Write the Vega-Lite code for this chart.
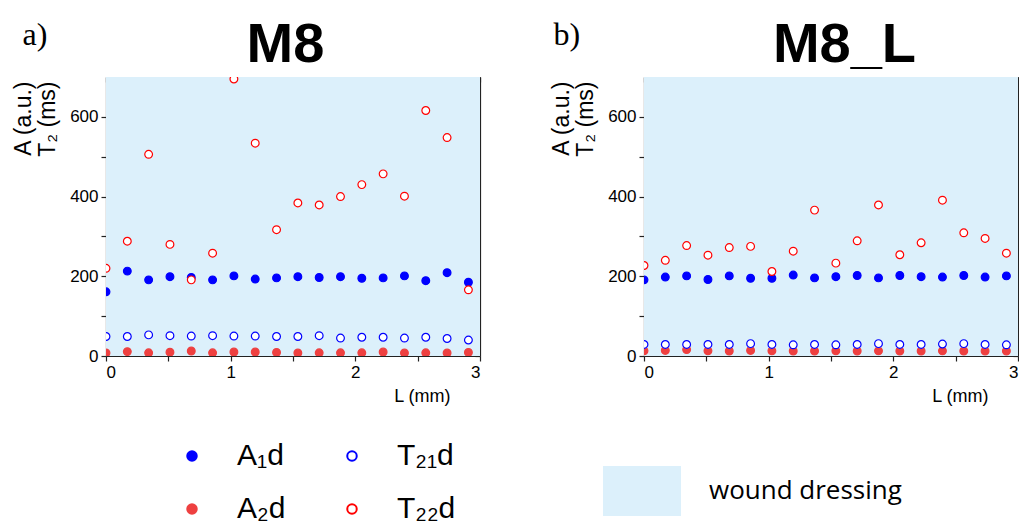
{
  "$schema": "https://vega.github.io/schema/vega-lite/v6.json",
  "background": "white",
  "padding": {"left": 12, "top": 16, "right": 0, "bottom": 0},
  "datasets": {
    "m8": [
      {"L": 0, "A1d": 161, "A2d": 7.5, "T21d": 49, "T22d": 220},
      {"L": 0.171, "A1d": 213, "A2d": 11, "T21d": 49, "T22d": 288},
      {"L": 0.342, "A1d": 191, "A2d": 8, "T21d": 53, "T22d": 506},
      {"L": 0.513, "A1d": 199, "A2d": 9.6, "T21d": 51, "T22d": 280},
      {"L": 0.684, "A1d": 197, "A2d": 12.5, "T21d": 50, "T22d": 191},
      {"L": 0.855, "A1d": 191, "A2d": 8, "T21d": 51, "T22d": 258},
      {"L": 1.026, "A1d": 201, "A2d": 10, "T21d": 50, "T22d": 695},
      {"L": 1.197, "A1d": 193, "A2d": 10, "T21d": 50, "T22d": 534},
      {"L": 1.368, "A1d": 196, "A2d": 9, "T21d": 49, "T22d": 317},
      {"L": 1.539, "A1d": 199, "A2d": 7.5, "T21d": 49, "T22d": 384},
      {"L": 1.71, "A1d": 197, "A2d": 8, "T21d": 51, "T22d": 379},
      {"L": 1.881, "A1d": 199, "A2d": 8, "T21d": 45, "T22d": 400},
      {"L": 2.052, "A1d": 195, "A2d": 8, "T21d": 47, "T22d": 430},
      {"L": 2.223, "A1d": 196, "A2d": 10, "T21d": 47, "T22d": 457},
      {"L": 2.394, "A1d": 201, "A2d": 7.5, "T21d": 45, "T22d": 401},
      {"L": 2.565, "A1d": 189, "A2d": 8, "T21d": 47, "T22d": 616},
      {"L": 2.736, "A1d": 209, "A2d": 7.5, "T21d": 44, "T22d": 548},
      {"L": 2.907, "A1d": 185, "A2d": 9, "T21d": 40, "T22d": 166}
    ],
    "m8l": [
      {"L": 0, "A1d": 191, "A2d": 13, "T21d": 29, "T22d": 227},
      {"L": 0.171, "A1d": 198, "A2d": 14, "T21d": 29, "T22d": 240},
      {"L": 0.342, "A1d": 201, "A2d": 16, "T21d": 29, "T22d": 277},
      {"L": 0.513, "A1d": 192, "A2d": 13, "T21d": 29, "T22d": 253},
      {"L": 0.684, "A1d": 201, "A2d": 12.5, "T21d": 29, "T22d": 272},
      {"L": 0.855, "A1d": 195, "A2d": 14, "T21d": 31, "T22d": 275},
      {"L": 1.026, "A1d": 195, "A2d": 13, "T21d": 29, "T22d": 212},
      {"L": 1.197, "A1d": 203, "A2d": 12.5, "T21d": 28, "T22d": 263},
      {"L": 1.368, "A1d": 196, "A2d": 12.5, "T21d": 29, "T22d": 366},
      {"L": 1.539, "A1d": 199, "A2d": 13, "T21d": 28, "T22d": 233},
      {"L": 1.71, "A1d": 202, "A2d": 12.5, "T21d": 29, "T22d": 289},
      {"L": 1.881, "A1d": 196, "A2d": 13, "T21d": 31, "T22d": 379},
      {"L": 2.052, "A1d": 202, "A2d": 12.5, "T21d": 29, "T22d": 254},
      {"L": 2.223, "A1d": 199, "A2d": 12.5, "T21d": 29, "T22d": 284},
      {"L": 2.394, "A1d": 198, "A2d": 13, "T21d": 30, "T22d": 391},
      {"L": 2.565, "A1d": 202, "A2d": 12.5, "T21d": 31, "T22d": 309},
      {"L": 2.736, "A1d": 198, "A2d": 12.5, "T21d": 29, "T22d": 295},
      {"L": 2.907, "A1d": 201, "A2d": 12.5, "T21d": 28, "T22d": 258}
    ]
  },
  "hconcat": [
    {
      "width": 374,
      "height": 279,
      "layer": [
        {
          "data": {"values": [{"region": "wound dressing"}]},
          "mark": {"type": "rect"},
          "encoding": {
            "x": {"datum": 0, "type": "quantitative", "scale": {"domain": [0, 3], "nice": false},
              "axis": {"orient": "bottom", "values": [0, 0.5, 1, 1.5, 2, 2.5, 3], "format": "~f", "labelExpr": "datum.value % 1 == 0 ? datum.label : ''", "title": "L (mm)", "titleX": 344, "titleY": 40, "titleAlign": "right", "titleBaseline": "middle", "tickSize": 5}},
            "x2": {"datum": 3},
            "y": {"datum": 0, "type": "quantitative", "scale": {"domain": [0, 700], "nice": false},
              "axis": {"orient": "left", "values": [0, 100, 200, 300, 400, 500, 600], "format": "~f", "labelExpr": "datum.value % 200 == 0 ? datum.label : ''", "title": ["A (a.u.)", "T₂ (ms)"], "titleAnchor": "end", "titleY": 4, "titleFontSize": 23, "titleLineHeight": 24, "titlePadding": 10, "tickSize": 5}},
            "y2": {"datum": 700},
            "color": {"field": "region", "type": "nominal", "scale": {"range": ["#dcf0fb"]},
              "legend": {"orient": "none", "legendX": 497, "legendY": 375, "title": null, "symbolType": "M-1,-0.64H1V0.64H-1Z", "symbolSize": 6084, "symbolStrokeWidth": 0, "labelFontSize": 26, "labelFont": "Open Sans", "labelOffset": 28, "labelLimit": 400, "labelColor": "black"}}
          }
        },
        {
          "data": {"name": "m8"},
          "transform": [{"fold": ["A1d", "T21d", "A2d", "T22d"], "as": ["s", "v"]}],
          "mark": {"type": "point", "shape": "circle", "filled": true, "size": 60, "strokeWidth": 1.2, "clip": true, "opacity": 1},
          "encoding": {
            "x": {"field": "L", "type": "quantitative",
              "axis": {"orient": "top", "values": [0, 0.5, 1, 1.5, 2, 2.5, 3], "labels": false, "tickSize": -5, "title": "M8", "titleFontSize": 56, "titleFontWeight": "bold", "titleAlign": "center", "titleAnchor": "start", "titleBaseline": "alphabetic", "titleX": 179, "titleY": -16}},
            "y": {"field": "v", "type": "quantitative",
              "axis": {"orient": "right", "values": [0, 100, 200, 300, 400, 500, 600], "labels": false, "tickSize": -5, "title": "a)", "titleFont": "Liberation Serif", "titleFontSize": 32, "titleFontWeight": "normal", "titleAngle": 0, "titleAlign": "left", "titleAnchor": "start", "titleBaseline": "alphabetic", "titleX": -458, "titleY": -33}},
            "fill": {"field": "s", "type": "nominal", "scale": {"domain": ["A1d", "T21d", "A2d", "T22d"], "range": ["#0000ff", "#ffffff", "#ee4040", "#ffffff"]},
              "legend": {"orient": "none", "legendX": 71, "legendY": 364, "values": ["A1d", "A2d", "T21d", "T22d"], "title": null, "columns": 2, "columnPadding": 51, "rowPadding": 23, "symbolType": "circle", "symbolSize": 90, "symbolStrokeWidth": 2, "labelFontSize": 30, "labelFont": "Liberation Sans", "labelOffset": 30, "labelColor": "black",
                "labelExpr": "datum.label == 'A1d' ? 'A₁d' : datum.label == 'A2d' ? 'A₂d' : datum.label == 'T21d' ? 'T₂₁d' : 'T₂₂d'"}},
            "stroke": {"field": "s", "type": "nominal", "scale": {"domain": ["A1d", "T21d", "A2d", "T22d"], "range": ["#0000ff", "#0000ff", "#ee4040", "#ff0000"]},
              "legend": {"orient": "none", "legendX": 71, "legendY": 364, "values": ["A1d", "A2d", "T21d", "T22d"], "title": null, "columns": 2, "columnPadding": 51, "rowPadding": 23, "symbolType": "circle", "symbolSize": 90, "symbolStrokeWidth": 2, "labelFontSize": 30, "labelFont": "Liberation Sans", "labelOffset": 30, "labelColor": "black",
                "labelExpr": "datum.label == 'A1d' ? 'A₁d' : datum.label == 'A2d' ? 'A₂d' : datum.label == 'T21d' ? 'T₂₁d' : 'T₂₂d'"}},
            "order": {"field": "s"}
          }
        }
      ],
      "resolve": {"axis": {"x": "independent", "y": "independent"}}
    },
    {
      "width": 374,
      "height": 279,
      "layer": [
        {
          "data": {"values": [{"region": "wound dressing"}]},
          "mark": {"type": "rect"},
          "encoding": {
            "x": {"datum": 0, "type": "quantitative", "scale": {"domain": [0, 3], "nice": false},
              "axis": {"orient": "bottom", "values": [0, 0.5, 1, 1.5, 2, 2.5, 3], "format": "~f", "labelExpr": "datum.value % 1 == 0 ? datum.label : ''", "title": "L (mm)", "titleX": 344, "titleY": 40, "titleAlign": "right", "titleBaseline": "middle", "tickSize": 5}},
            "x2": {"datum": 3},
            "y": {"datum": 0, "type": "quantitative", "scale": {"domain": [0, 700], "nice": false},
              "axis": {"orient": "left", "values": [0, 100, 200, 300, 400, 500, 600], "format": "~f", "labelExpr": "datum.value % 200 == 0 ? datum.label : ''", "title": ["A (a.u.)", "T₂ (ms)"], "titleAnchor": "end", "titleY": 4, "titleFontSize": 23, "titleLineHeight": 24, "titlePadding": 10, "tickSize": 5}},
            "y2": {"datum": 700},
            "color": {"field": "region", "type": "nominal", "scale": {"range": ["#dcf0fb"]}, "legend": null}
          }
        },
        {
          "data": {"name": "m8l"},
          "transform": [{"fold": ["A1d", "T21d", "A2d", "T22d"], "as": ["s", "v"]}],
          "mark": {"type": "point", "shape": "circle", "filled": true, "size": 60, "strokeWidth": 1.2, "clip": true, "opacity": 1},
          "encoding": {
            "x": {"field": "L", "type": "quantitative",
              "axis": {"orient": "top", "values": [0, 0.5, 1, 1.5, 2, 2.5, 3], "labels": false, "tickSize": -5, "title": "M8_L", "titleFontSize": 56, "titleFontWeight": "bold", "titleAlign": "center", "titleAnchor": "start", "titleBaseline": "alphabetic", "titleX": 200, "titleY": -16}},
            "y": {"field": "v", "type": "quantitative",
              "axis": {"orient": "right", "values": [0, 100, 200, 300, 400, 500, 600], "labels": false, "tickSize": -5, "title": "b)", "titleFont": "Liberation Serif", "titleFontSize": 32, "titleFontWeight": "normal", "titleAngle": 0, "titleAlign": "left", "titleAnchor": "start", "titleBaseline": "alphabetic", "titleX": -465, "titleY": -33}},
            "fill": {"field": "s", "type": "nominal", "scale": {"domain": ["A1d", "T21d", "A2d", "T22d"], "range": ["#0000ff", "#ffffff", "#ee4040", "#ffffff"]}, "legend": null},
            "stroke": {"field": "s", "type": "nominal", "scale": {"domain": ["A1d", "T21d", "A2d", "T22d"], "range": ["#0000ff", "#0000ff", "#ee4040", "#ff0000"]}, "legend": null},
            "order": {"field": "s"}
          }
        }
      ],
      "resolve": {"axis": {"x": "independent", "y": "independent"}}
    }
  ],
  "spacing": 164,
  "bounds": "flush",
  "resolve": {"scale": {"fill": "independent", "stroke": "independent", "color": "independent"}, "legend": {"fill": "independent", "stroke": "independent", "color": "independent"}},
  "config": {
    "font": "Liberation Sans",
    "view": {"stroke": null},
    "axis": {"grid": false, "labelFontSize": 17, "labelColor": "black", "labelPadding": 3, "titleFontSize": 18, "titleFontWeight": "normal", "titleColor": "black", "domainColor": "#222222", "domainWidth": 1.2, "tickColor": "#222222", "tickWidth": 1.2}
  }
}
